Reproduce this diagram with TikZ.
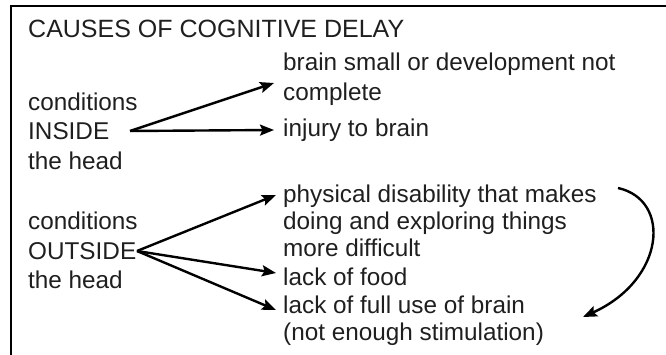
\documentclass[tikz,border=0pt]{standalone}
\usepackage{fontspec}
\setmainfont{Liberation Sans}
\usetikzlibrary{arrows.meta}
\begin{document}
\begin{tikzpicture}[x=1pt,y=-1pt,
  txt/.style={anchor=base west, inner sep=0pt, text=black!88},
  body/.style={txt, font=\fontsize{24.3}{29}\selectfont},
  arr/.style={line width=2.4pt, -{Stealth[length=14pt,width=11pt,inset=2.5pt]}},
]
\useasboundingbox (0,0) rectangle (666,355);
\draw[line width=1.3pt] (11,356) -- (11,6) -- (667,6);
\node[txt, font=\fontsize{25}{29}\selectfont] (title) at (28,38) {CAUSES OF COGNITIVE DELAY};
% left column
\node[body] (in1) at (28,111) {conditions};
\node[body] (in2) at (28,140) {INSIDE};
\node[body] (in3) at (28,170) {the head};
\node[body] (out1) at (28,230) {conditions};
\node[body] (out2) at (28,259) {OUTSIDE};
\node[body] (out3) at (28,288) {the head};
% right column
\node[body] (small1) at (283,71) {brain small or development not};
\node[body] (small2) at (283,101) {complete};
\node[body] (injury) at (283,137) {injury to brain};
\node[body] (phys1) at (283,203) {physical disability that makes};
\node[body] (phys2) at (283,230) {doing and exploring things};
\node[body] (phys3) at (283,257) {more difficult};
\node[body] (food) at (283,285) {lack of food};
\node[body] (stim1) at (283,313) {lack of full use of brain};
\node[body] (stim2) at (283,340) {(not enough stimulation)};
% connector end points
\coordinate (inO) at (130,131);
\coordinate (outO) at (137,251);
\coordinate (tSmall) at (274,83);
\coordinate (tInj) at (274,130);
\coordinate (tPhys) at (276,195);
\coordinate (tFood) at (276,273);
\coordinate (tStim) at (276,310);
\coordinate (cS) at (618,188);
\coordinate (cE) at (583,317);
\draw[arr] (inO) -- (tSmall);
\draw[arr] (inO) -- (tInj);
\draw[arr] (outO) -- (tPhys);
\draw[arr] (outO) -- (tFood);
\draw[arr] (outO) -- (tStim);
\draw[arr] (cS) .. controls (672,200) and (665,280) .. (cE);
\end{tikzpicture}
\end{document}
